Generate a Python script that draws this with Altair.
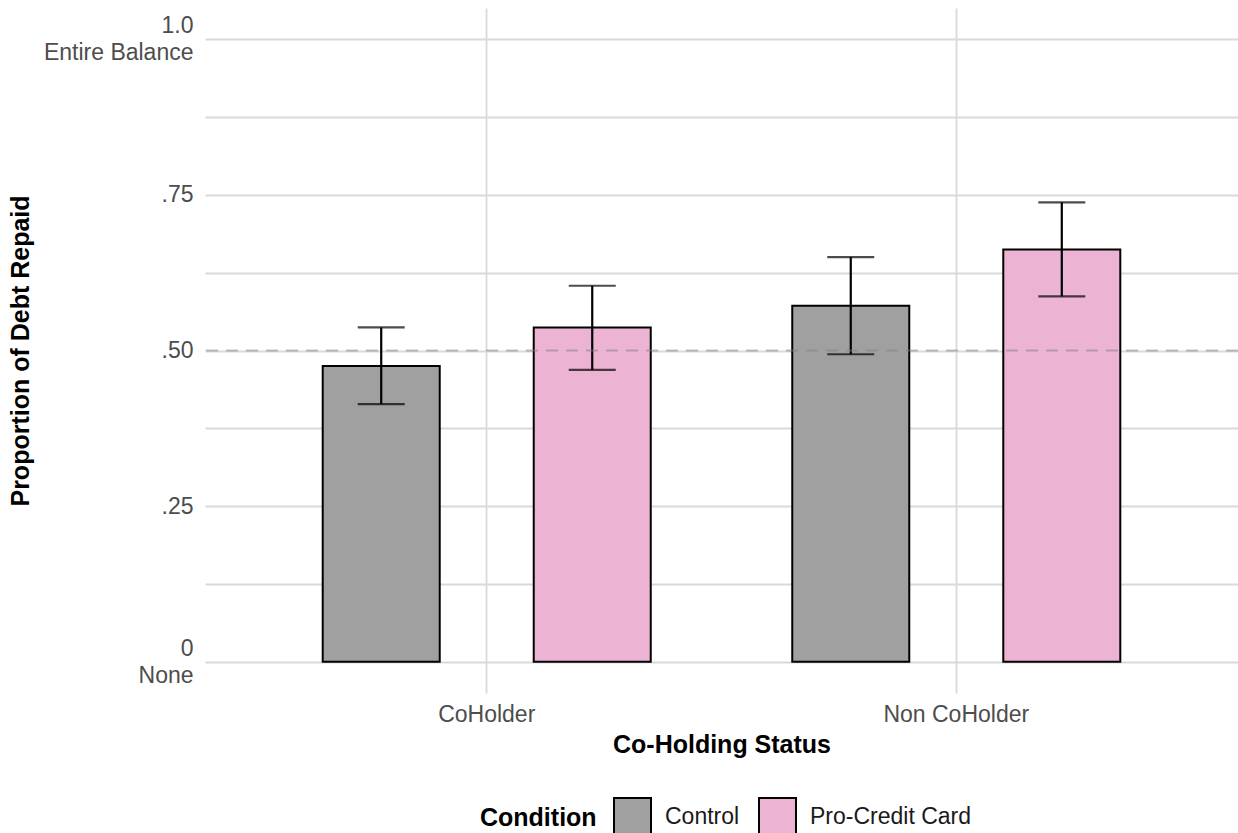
import altair as alt
import pandas as pd

# Mean proportion of debt repaid with 95% interval bounds
status = ["CoHolder", "CoHolder", "Non CoHolder", "Non CoHolder"]
condition = ["Control", "Pro-Credit Card", "Control", "Pro-Credit Card"]
mean = [0.475, 0.537, 0.572, 0.662]
lower = [0.414, 0.469, 0.494, 0.587]
upper = [0.537, 0.604, 0.650, 0.738]

conditions = ["Control", "Pro-Credit Card"]
colors = ["#a0a0a0", "#edb3d3"]

y_ticks = [0, 0.125, 0.25, 0.375, 0.5, 0.625, 0.75, 0.875, 1.0]
y_tick_labels = [["0", "None"], "", ".25", "", ".50", "", ".75", "", ["1.0", "Entire Balance"]]
reference_level = 0.5

df = pd.DataFrame({
    "status": status,
    "condition": condition,
    "mean": mean,
    "lower": lower,
    "upper": upper,
})


def label_expr(values, labels):
    parts = []
    for v, lab in zip(values, labels):
        if isinstance(lab, list):
            txt = "[" + ",".join("'" + s + "'" for s in lab) + "]"
        else:
            txt = "'" + lab + "'"
        parts.append(f"abs(datum.value - {v}) < 1e-6 ? {txt} : ")
    return "".join(parts) + "''"


# two-line labels are lifted so the pair is centred on its gridline
multi_line_values = [v for v, lab in zip(y_ticks, y_tick_labels) if isinstance(lab, list)]
multi_line_test = " || ".join(f"abs(datum.value - {v}) < 1e-6" for v in multi_line_values)

FONT = "Liberation Sans"

x_enc = alt.X(
    "status:N",
    title="Co-Holding Status",
    scale=alt.Scale(paddingInner=0, paddingOuter=0.1),
    axis=alt.Axis(
        bandPosition=0.5,
        labelAngle=0,
        labelPadding=10,
        titlePadding=6,
    ),
)
offset_enc = alt.XOffset(
    "condition:N",
    scale=alt.Scale(domain=conditions, paddingInner=0.4455, paddingOuter=0.3353),
)
y_scale = alt.Scale(domain=[-0.05, 1.05], nice=False, zero=False)

base = alt.Chart(df)

bars = base.mark_bar(stroke="black", strokeWidth=2, opacity=1).encode(
    x=x_enc,
    xOffset=offset_enc,
    y=alt.Y(
        "mean:Q",
        title="Proportion of Debt Repaid",
        scale=y_scale,
        axis=alt.Axis(
            values=y_ticks,
            labelExpr=label_expr(y_ticks, y_tick_labels),
            labelLineHeight=27,
            labelOffset={"condition": {"test": multi_line_test, "value": -13.5}, "value": 0},
            labelPadding=12,
            titlePadding=10,
        ),
    ),
    color=alt.Color(
        "condition:N",
        title="Condition",
        scale=alt.Scale(domain=conditions, range=colors),
        legend=alt.Legend(
            orient="none",
            legendX=275,
            legendY=789,
            direction="horizontal",
            titleOrient="left",
            symbolType="square",
            symbolSize=1369,
            symbolStrokeColor="black",
            symbolStrokeWidth=2,
            symbolOpacity=1,
            labelOffset=13,
            labelLimit=400,
            columnPadding=15,
            titlePadding=16,
            padding=0,
        ),
    ),
)

whiskers = base.mark_rule(color="black", strokeWidth=2.2).encode(
    x=alt.X("status:N"),
    xOffset=offset_enc,
    y=alt.Y("lower:Q", scale=y_scale),
    y2="upper:Q",
)

caps_top = base.mark_tick(color="black", thickness=2.2, size=47).encode(
    x=alt.X("status:N"),
    xOffset=offset_enc,
    y=alt.Y("upper:Q", scale=y_scale),
)

caps_bottom = base.mark_tick(color="black", thickness=2.2, size=47).encode(
    x=alt.X("status:N"),
    xOffset=offset_enc,
    y=alt.Y("lower:Q", scale=y_scale),
)

ref_line = alt.Chart(pd.DataFrame({"level": [reference_level]})).mark_rule(
    color="#808080", opacity=0.5, strokeWidth=2, strokeDash=[12, 8]
).encode(y=alt.Y("level:Q", scale=y_scale))

chart = (
    alt.layer(bars, whiskers, caps_top, caps_bottom, ref_line)
    .properties(
        width=1033,
        height=685,
        autosize=alt.AutoSizeParams(type="none"),
        padding={"left": 205, "top": 8, "right": 0, "bottom": 140},
    )
    .configure_view(stroke=None)
    .configure_axis(
        domain=False,
        ticks=False,
        grid=True,
        gridColor="#d9d9d9",
        gridWidth=1.8,
        labelFont=FONT,
        labelFontSize=23,
        labelColor="#4d4d4d",
        titleFont=FONT,
        titleFontSize=25,
        titleFontWeight="bold",
        titleColor="black",
    )
    .configure_legend(
        labelFont=FONT,
        labelFontSize=23,
        labelColor="#1a1a1a",
        titleFont=FONT,
        titleFontSize=25,
        titleFontWeight="bold",
        titleColor="black",
    )
)

chart.save("out.html", embed_options={"renderer": "svg", "actions": False})
